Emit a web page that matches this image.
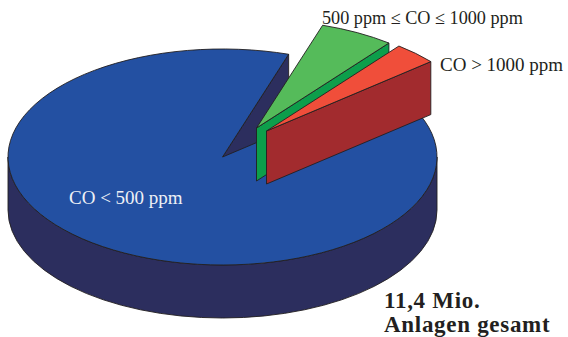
<!DOCTYPE html>
<html>
<head>
<meta charset="utf-8">
<script src="https://cdn.jsdelivr.net/npm/d3@7"></script>
<style>
  html, body { margin: 0; padding: 0; background: #fff; }
  text { font-family: "Liberation Serif", serif; }
</style>
</head>
<body>
<main></main>
<script>
// share of installations per CO class (percent)
const categories = ["CO < 500 ppm", "500 ppm ≤ CO ≤ 1000 ppm", "CO > 1000 ppm"];
const shares = [91.1, 5.6, 3.3];
const totalLines = ["11,4 Mio.", "Anlagen gesamt"];

const svgWidth = 568,
  svgHeight = 337,
  cx = 222.5,
  cy = 157,
  rx = 214.5,
  ry = 108,
  depth = 53;

const topColors = ["#2350a2", "#55bb5a", "#f04e3a"],
  wallColors = ["#2c2e5e", "#0d9e4b", "#a22b2e"];

// how far each slice is pulled out of the pie, in pixels
const shiftX = [0, 34, 44],
  shiftY = [0, -29, -26];

const labelX = [69, 322, 440],
  labelY = [204, 24, 71],
  labelSize = [19, 18.2, 19],
  labelFill = ["#eef0f6", "#231f20", "#231f20"];

// big slice starts at 50 deg and wraps round to 18 deg
const startAngle = (50 * Math.PI) / 180;

const pie = d3
  .pie()
  .sort(null)
  .startAngle(startAngle)
  .endAngle(startAngle + 2 * Math.PI);

const slices = pie(shares);

const svg = d3
  .select("main")
  .append("svg")
  .attr("width", svgWidth)
  .attr("height", svgHeight)
  .style("display", "block");

// angle is clockwise from 12 o'clock
function px(a, i) {
  return cx + shiftX[i] + rx * Math.sin(a);
}
function py(a, i, down = 0) {
  return cy + shiftY[i] + down - ry * Math.cos(a);
}

function arcTo(a0, a1, i, down, sweep) {
  const large = Math.abs(a1 - a0) > Math.PI ? 1 : 0;
  return `A${rx},${ry} 0 ${large} ${sweep} ${px(a1, i)},${py(a1, i, down)}`;
}

function topPath(d, i) {
  return (
    `M${cx + shiftX[i]},${cy + shiftY[i]}` +
    `L${px(d.startAngle, i)},${py(d.startAngle, i)}` +
    arcTo(d.startAngle, d.endAngle, i, 0, 1) +
    "Z"
  );
}

// flat wall below one cut edge of a slice
function cutWall(a, i) {
  const ax = cx + shiftX[i],
    ay = cy + shiftY[i];
  return (
    `M${ax},${ay}L${px(a, i)},${py(a, i)}` +
    `L${px(a, i)},${py(a, i, depth)}L${ax},${ay + depth}Z`
  );
}

// curved wall along the front of the ellipse
function rimWall(a0, a1, i) {
  return (
    `M${px(a0, i)},${py(a0, i)}` +
    arcTo(a0, a1, i, 0, 1) +
    `L${px(a1, i)},${py(a1, i, depth)}` +
    arcTo(a1, a0, i, depth, 0) +
    "Z"
  );
}

const stroke = { color: "#231f20", width: 0.9 };

function drawFace(path, fill) {
  svg
    .append("path")
    .attr("d", path)
    .attr("fill", fill)
    .attr("stroke", stroke.color)
    .attr("stroke-width", stroke.width)
    .attr("stroke-linejoin", "round");
}

slices.forEach((d, i) => {
  drawFace(cutWall(d.endAngle, i), wallColors[i]);
  if (i === 0) {
    drawFace(rimWall(Math.PI / 2, (3 * Math.PI) / 2, i), wallColors[i]);
  }
  drawFace(topPath(d, i), topColors[i]);
});

svg
  .selectAll("text.label")
  .data(categories)
  .join("text")
  .attr("class", "label")
  .attr("x", (d, i) => labelX[i])
  .attr("y", (d, i) => labelY[i])
  .attr("font-size", (d, i) => labelSize[i])
  .attr("fill", (d, i) => labelFill[i])
  .text((d) => d);

svg
  .selectAll("text.total")
  .data(totalLines)
  .join("text")
  .attr("class", "total")
  .attr("x", 384)
  .attr("y", (d, i) => 308 + i * 24)
  .attr("font-size", 23)
  .attr("letter-spacing", 0.7)
  .attr("font-weight", "bold")
  .attr("fill", "#231f20")
  .text((d) => d);
</script>
</body>
</html>
